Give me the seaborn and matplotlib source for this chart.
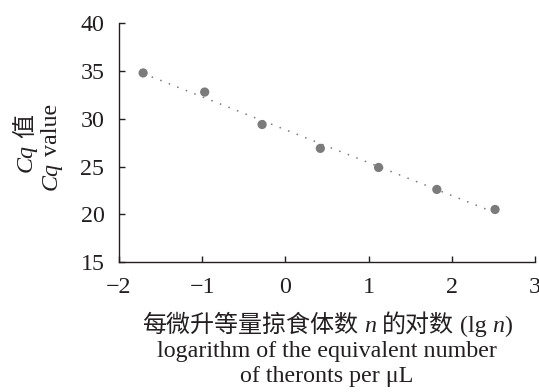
import numpy as np
import pandas as pd
import matplotlib
matplotlib.use("Agg")
import matplotlib.pyplot as plt
import seaborn as sns

# ---- data ----
lg_n = [-1.71, -0.97, -0.28, 0.42, 1.12, 1.82, 2.52]
cq_values = [34.8, 32.8, 29.4, 26.9, 24.9, 22.6, 20.5]
x_ticks = [-2, -1, 0, 1, 2, 3]
y_ticks = [15, 20, 25, 30, 35, 40]

ylabel_line1 = [("Cq", "italic"), (" ", None), ("值", "normal")]
ylabel_line2 = [("Cq", "italic"), (" ", None), ("value", "normal")]
xlabel_line1 = [("每微升等量掠食体数", "normal"), (" ", None), ("n", "italic"), (" ", None),
                ("的对数", "normal"), (" ", None), ("(lg", "normal"), (" ", None),
                ("n", "italic"), (")", "normal")]
xlabel_line2 = [("logarithm of the equivalent number", "normal")]
xlabel_line3 = [("of theronts per μL", "normal")]

sns.set_theme(style="ticks")
FAM = ["Liberation Serif", "Noto Sans CJK SC"]
plt.rcParams["font.family"] = FAM
TXT = "#231f20"
FS = 17.3

W, H = 539, 392
fig = plt.figure(figsize=(W / 100, H / 100), dpi=100)
ax = fig.add_axes([119 / W, 1 - 262 / H, (535 - 119) / W, (262 - 23.3) / H])

df = pd.DataFrame({"lg_n": lg_n, "cq": cq_values})
coef = np.polyfit(df["lg_n"], df["cq"], 1)
fit_x = [min(lg_n), max(lg_n)]
fit = pd.DataFrame({"lg_n": fit_x, "cq": np.polyval(coef, fit_x)})

sns.lineplot(data=fit, x="lg_n", y="cq", ax=ax, color="#7a7a7a", lw=1.1,
             linestyle=(0, (1, 5)), zorder=2)
sns.scatterplot(data=df, x="lg_n", y="cq", ax=ax, color="#7b7b7b", s=44,
                edgecolor="none", linewidth=0, zorder=3)

ax.set_xlim(-2, 3)
ax.set_ylim(15, 40)
ax.set_xticks(x_ticks)
ax.set_yticks(y_ticks)
ax.set_xlabel("")
ax.set_ylabel("")
for s in ["top", "right"]:
    ax.spines[s].set_visible(False)
for s in ["left", "bottom"]:
    ax.spines[s].set_color(TXT)
    ax.spines[s].set_linewidth(1.0)
ax.tick_params(direction="in", length=4, width=1, colors=TXT, labelsize=FS)
ax.tick_params(axis="y", pad=10.5)
ax.tick_params(axis="x", pad=10.5)
ax.set_facecolor("white")

renderer = fig.canvas.get_renderer()


def measure(s, style):
    t = fig.text(0, 0, s, fontsize=FS, style=style, family=FAM)
    w = t.get_window_extent(renderer).width
    t.remove()
    return w


space_w = measure("a a", "normal") - measure("aa", "normal")


def piece_widths(pieces):
    out = []
    for s, st in pieces:
        if st is None:
            out.append(space_w * len(s))
        else:
            out.append(measure(s, st))
    return out


def hline(pieces, xc, y_base):
    ws = piece_widths(pieces)
    x = xc - sum(ws) / 2
    for (s, st), w in zip(pieces, ws):
        if st is not None:
            fig.text(x / W, 1 - y_base / H, s, fontsize=FS, style=st, family=FAM,
                     ha="left", va="baseline", color=TXT)
        x += w


def vline(pieces, x_base, yc):
    ws = piece_widths(pieces)
    y = yc + sum(ws) / 2  # bottom start (pixel from top)
    for (s, st), w in zip(pieces, ws):
        if st is not None:
            fig.text(x_base / W, 1 - y / H, s, fontsize=FS, style=st, family=FAM,
                     ha="left", va="baseline", rotation=90, rotation_mode="anchor",
                     color=TXT)
        y -= w


vline(ylabel_line1, 32, 143)
vline(ylabel_line2, 57, 147)
hline(xlabel_line1, 327, 332)
hline(xlabel_line2, 327, 357)
hline(xlabel_line3, 327, 382)

fig.savefig("out.png", dpi=100, facecolor="white")
